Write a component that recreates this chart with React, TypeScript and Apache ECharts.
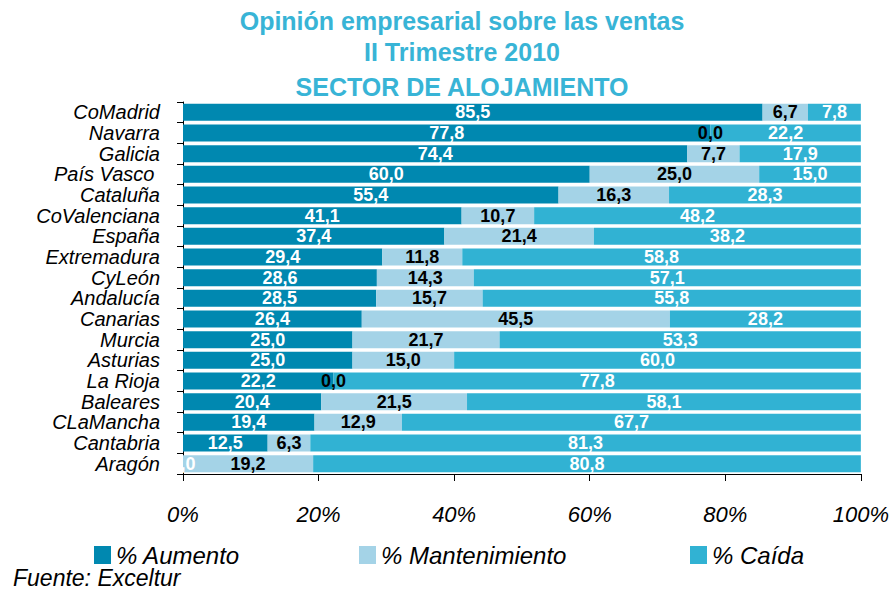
import React, { useEffect, useRef } from "react";
import * as echarts from "echarts";

const categories = [
  "CoMadrid", "Navarra", "Galicia", "País Vasco ", "Cataluña", "CoValenciana",
  "España", "Extremadura", "CyLeón", "Andalucía", "Canarias", "Murcia",
  "Asturias", "La Rioja", "Baleares", "CLaMancha", "Cantabria", "Aragón",
];
const aumento = [85.5, 77.8, 74.4, 60.0, 55.4, 41.1, 37.4, 29.4, 28.6, 28.5, 26.4, 25.0, 25.0, 22.2, 20.4, 19.4, 12.5, 0.0];
const mantenimiento = [6.7, 0.0, 7.7, 25.0, 16.3, 10.7, 21.4, 11.8, 14.3, 15.7, 45.5, 21.7, 15.0, 0.0, 21.5, 12.9, 6.3, 19.2];
const caida = [7.8, 22.2, 17.9, 15.0, 28.3, 48.2, 38.2, 58.8, 57.1, 55.8, 28.2, 53.3, 60.0, 77.8, 58.1, 67.7, 81.3, 80.8];
const seriesNames = ["% Aumento", "% Mantenimiento", "% Caída"];
const titleLines = ["Opinión empresarial sobre las ventas", "II Trimestre 2010", "SECTOR DE ALOJAMIENTO"];
const sourceText = "Fuente: Exceltur";

const FONT = "'Liberation Sans', Arial, Helvetica, sans-serif";
const COLORS = ["#0088b0", "#a4d3e7", "#31b2d3"];
const LABEL_COLORS = ["#ffffff", "#000000", "#ffffff"];

export default function App() {
  const ref = useRef<HTMLDivElement>(null);

  useEffect(() => {
    if (!ref.current) return;
    const chart = echarts.init(ref.current, undefined, { renderer: "svg" });
    const raw = [aumento, mantenimiento, caida];
    const totals = categories.map((_, i) => aumento[i] + mantenimiento[i] + caida[i]);
    const fmt = (v: number) => v.toFixed(1).replace(".", ",");

    const series = raw.map((arr, s) => ({
      name: seriesNames[s],
      type: "bar",
      stack: "total",
      barCategoryGap: "18%",
      itemStyle: { color: COLORS[s] },
      label: {
        show: true,
        position: "inside",
        color: LABEL_COLORS[s],
        fontFamily: FONT,
        fontWeight: "bold",
        fontSize: 18,
        lineHeight: 18,
        textBorderWidth: 0,
        formatter: (p: any) => fmt(arr[p.dataIndex]),
      },
      emphasis: { disabled: true },
      data: arr.map((v, i) => (v / totals[i]) * 100),
    }));

    const legendBase = {
      orient: "horizontal",
      top: 543,
      padding: 0,
      itemWidth: 17,
      itemHeight: 18,
      icon: "rect",
      selectedMode: false,
      textStyle: { fontSize: 24, lineHeight: 22, fontStyle: "italic", color: "#000", fontFamily: FONT },
    };

    chart.setOption({
      animation: false,
      backgroundColor: "#ffffff",
      grid: { left: 183, right: 30, top: 102, bottom: 116, containLabel: false },
      legend: [
        { ...legendBase, left: 94, data: [seriesNames[0]] },
        { ...legendBase, left: 359, data: [seriesNames[1]] },
        { ...legendBase, left: 690, data: [seriesNames[2]] },
      ],
      xAxis: {
        type: "value",
        min: 0,
        max: 100,
        interval: 20,
        axisLine: { show: true, lineStyle: { color: "#000", width: 1 } },
        axisTick: { show: true, length: 7, lineStyle: { color: "#000" } },
        splitLine: { show: false },
        axisLabel: {
          formatter: "{value}%",
          fontSize: 22,
          fontStyle: "italic",
          color: "#000",
          fontFamily: FONT,
          margin: 29,
        },
      },
      yAxis: {
        type: "category",
        inverse: true,
        data: categories,
        axisLine: { show: true, lineStyle: { color: "#000", width: 1 } },
        axisTick: { show: true, length: 6, interval: 0, lineStyle: { color: "#000" } },
        axisLabel: {
          interval: 0,
          fontSize: 20,
          lineHeight: 19,
          fontStyle: "italic",
          color: "#000",
          fontFamily: FONT,
          margin: 23,
        },
      },
      graphic: [
        ...titleLines.map((t, i) => ({
          type: "text",
          x: 462,
          y: [21, 51.5, 86.5][i],
          style: {
            text: t,
            fill: "#38b4d6",
            font: `bold 25px ${FONT}`,
            textAlign: "center",
            textVerticalAlign: "middle",
          },
        })),
        {
          type: "text",
          x: 13,
          y: 578,
          style: {
            text: sourceText,
            fill: "#000",
            font: `italic 23px ${FONT}`,
            textAlign: "left",
            textVerticalAlign: "middle",
          },
        },
      ],
      series,
    });

    return () => chart.dispose();
  }, []);

  return (
    <div
      ref={ref}
      style={{ position: "fixed", left: 0, top: 0, width: 892, height: 590, background: "#fff" }}
    />
  );
}
